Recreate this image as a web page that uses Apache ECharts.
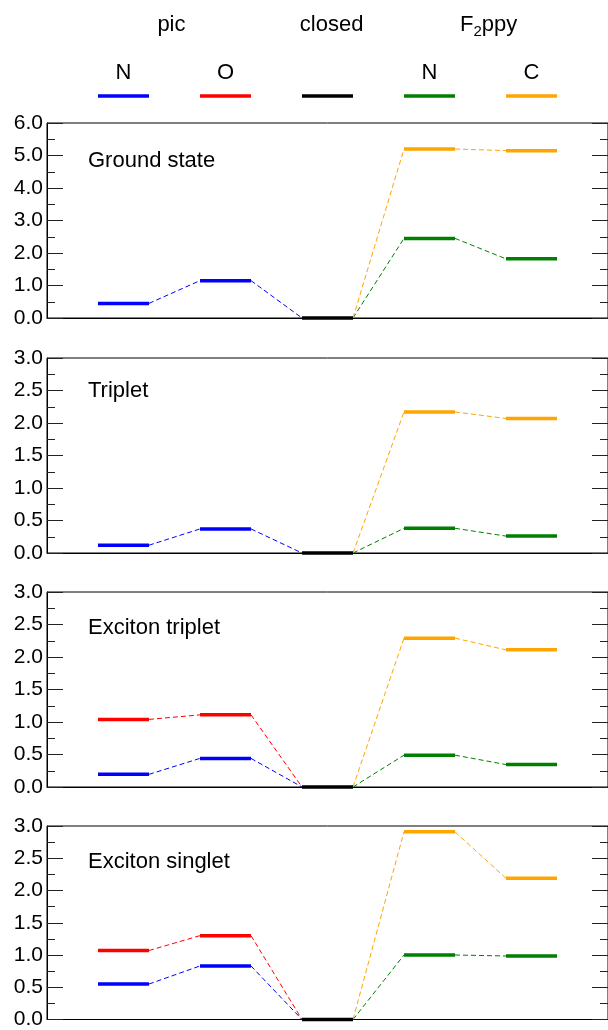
<!DOCTYPE html>
<html>
<head>
<meta charset="utf-8">
<script src="https://cdn.jsdelivr.net/npm/echarts@6/dist/echarts.min.js"></script>
<style>
  html, body { margin: 0; padding: 0; background: #fff; }
  #chart { width: 608px; height: 1030px; }
</style>
</head>
<body>
<div id="chart"></div>
<script>
// columns: pic N, pic O, closed, F2ppy N, F2ppy C
const colX = [1, 2, 3, 4, 5]
const closed = 0

const panelNames = ['Ground state', 'Triplet', 'Exciton triplet', 'Exciton singlet']
const panelMax = [6, 3, 3, 3]
const panelStep = [1, 0.5, 0.5, 0.5]

// pic levels (columns 1, 2), end at closed
const blueVals = [[0.45, 1.15], [0.12, 0.37], [0.195, 0.44], [0.55, 0.83]]
const redVals = [null, null, [1.04, 1.11], [1.07, 1.30]]
// F2ppy levels (columns 4, 5), start from closed
const greenVals = [[2.45, 1.82], [0.38, 0.26], [0.49, 0.345], [1.0, 0.985]]
const orangeVals = [[5.2, 5.15], [2.17, 2.07], [2.29, 2.11], [2.91, 2.19]]

// key: group headings sit between their columns
const headNames = ['pic', 'closed', 'F{s|2}ppy']
const headX = [1.47, 3.04, 4.58]
const keyLabels = ['N', 'O', '', 'N', 'C']
const colors = ['#0000ff', '#ff0000', '#000000', '#008000', '#ffa500']

const FONT = '"Liberation Sans", Arial, Helvetica, sans-serif'
const gridTops = [123, 358, 592, 826]
const titleTops = [150, 380, 617, 851]
const HALF = 0.25

const chart = echarts.init(document.getElementById('chart'))

// item: [x, y, nextX, nextY, drawBar]
function levelItem(params, api) {
  const color = params.seriesName.split('|')[1]
  const x = api.value(0)
  const y = api.value(1)
  const a = api.coord([x - HALF, y])
  const b = api.coord([x + HALF, y])
  const children = []
  const nx = api.value(2)
  const ny = api.value(3)
  if (!isNaN(nx) && !isNaN(ny)) {
    const c = api.coord([nx - HALF, ny])
    children.push({
      type: 'line',
      shape: { x1: b[0], y1: b[1], x2: c[0], y2: c[1] },
      style: { stroke: color, lineWidth: 1, lineDash: [5, 3] }
    })
  }
  if (api.value(4)) {
    children.push({
      type: 'line',
      shape: { x1: a[0], y1: a[1], x2: b[0], y2: b[1] },
      style: { stroke: color, lineWidth: 3.5 }
    })
  }
  return { type: 'group', children: children }
}

// chain of levels; the closed level itself is left to the black series
function chain(xs, ys) {
  return xs.map((x, i) => {
    const bar = x === colX[2] ? 0 : 1
    return i < xs.length - 1 ? [x, ys[i], xs[i + 1], ys[i + 1], bar] : [x, ys[i], '-', '-', bar]
  }).filter(d => d[4] || d[2] !== '-')
}

const grids = []
const xAxes = []
const yAxes = []
const series = []
const titles = []

panelNames.forEach((name, p) => {
  grids.push({
    left: 47, width: 563, top: gridTops[p], height: 195,
    show: true, borderColor: '#000', borderWidth: 1
  })
  xAxes.push({
    gridIndex: p, type: 'value', min: 0.25, max: 5.75,
    axisLine: { show: true, onZero: false, lineStyle: { color: '#000', width: 1 } },
    axisTick: { show: false }, axisLabel: { show: false }, splitLine: { show: false }
  })
  const yBase = {
    gridIndex: p, type: 'value', min: 0, max: panelMax[p], interval: panelStep[p],
    splitLine: { show: false },
    axisLine: { show: true, lineStyle: { color: '#000', width: 1 } },
    axisTick: { show: true, inside: true, length: 16, lineStyle: { color: '#222', width: 1 } },
    minorTick: { show: true, splitNumber: 2, length: 8, lineStyle: { color: '#222', width: 1 } }
  }
  yAxes.push(Object.assign({}, yBase, {
    position: 'left',
    axisLabel: {
      show: true, margin: 4, color: '#000', fontSize: 21, fontFamily: FONT,
      formatter: v => v.toFixed(1)
    }
  }))
  yAxes.push(Object.assign({}, yBase, { position: 'right', axisLabel: { show: false } }))

  titles.push({
    text: name, left: 88, top: titleTops[p], padding: 0,
    textStyle: { fontSize: 22, fontWeight: 'normal', color: '#000', fontFamily: FONT }
  })

  const groups = [
    [colors[0], blueVals[p], [colX[0], colX[1], colX[2]], 'end'],
    [colors[1], redVals[p], [colX[0], colX[1], colX[2]], 'end'],
    [colors[3], greenVals[p], [colX[2], colX[3], colX[4]], 'start'],
    [colors[4], orangeVals[p], [colX[2], colX[3], colX[4]], 'start']
  ]
  groups.forEach(g => {
    if (!g[1]) return
    const ys = g[3] === 'end' ? g[1].concat([closed]) : [closed].concat(g[1])
    series.push({
      type: 'custom', name: 'p' + p + '|' + g[0],
      xAxisIndex: p, yAxisIndex: p * 2,
      renderItem: levelItem, data: chain(g[2], ys), silent: true, animation: false, clip: false
    })
  })
  series.push({
    type: 'custom', name: 'p' + p + 'closed|' + colors[2],
    xAxisIndex: p, yAxisIndex: p * 2, z: 5,
    renderItem: levelItem, data: [[colX[2], closed, '-', '-', 1]], silent: true, animation: false, clip: false
  })
})

// key grid on top, same column scale as the panels, y in pixels from the top
const K = panelNames.length
grids.push({ left: 47, width: 563, top: 0, height: 110 })
xAxes.push({ gridIndex: K, type: 'value', min: 0.25, max: 5.75, show: false })
yAxes.push({ gridIndex: K, type: 'value', min: 0, max: 110, inverse: true, show: false })

series.push({
  type: 'custom', name: 'key', xAxisIndex: K, yAxisIndex: K * 2,
  silent: true, animation: false, clip: false,
  data: colX.map((x, i) => [x, i]),
  renderItem: function(params, api) {
    const x = api.value(0)
    const i = api.value(1)
    const a = api.coord([x - HALF, 96])
    const b = api.coord([x + HALF, 96])
    const t = api.coord([x, 73])
    return {
      type: 'group',
      children: [
        { type: 'line', shape: { x1: a[0], y1: a[1], x2: b[0], y2: b[1] }, style: { stroke: colors[i], lineWidth: 3.5 } },
        { type: 'text', x: t[0], y: t[1], style: { text: keyLabels[i], align: 'center', verticalAlign: 'middle', font: '22px ' + FONT, fill: '#000' } }
      ]
    }
  }
})
series.push({
  type: 'custom', name: 'heads', xAxisIndex: K, yAxisIndex: K * 2,
  silent: true, animation: false, clip: false,
  data: headX.map((x, i) => [x, i]),
  renderItem: function(params, api) {
    const t = api.coord([api.value(0), 25])
    return {
      type: 'text', x: t[0], y: t[1],
      style: {
        text: headNames[api.value(1)], align: 'center', verticalAlign: 'middle',
        font: '22px ' + FONT, fill: '#000',
        rich: { s: { fontSize: 15, fontFamily: FONT, padding: [14, 0, 0, 0] } }
      }
    }
  }
})

chart.setOption({
  backgroundColor: '#fff',
  animation: false,
  title: titles,
  grid: grids,
  xAxis: xAxes,
  yAxis: yAxes,
  series: series
})
</script>
</body>
</html>
